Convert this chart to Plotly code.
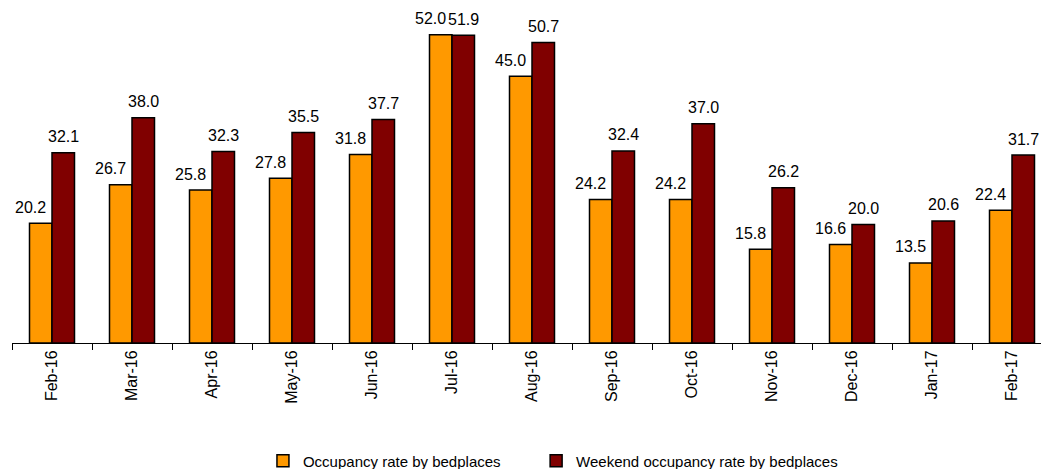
import plotly.graph_objects as go

months = ["Feb-16", "Mar-16", "Apr-16", "May-16", "Jun-16", "Jul-16", "Aug-16",
          "Sep-16", "Oct-16", "Nov-16", "Dec-16", "Jan-17", "Feb-17"]
occupancy = [20.2, 26.7, 25.8, 27.8, 31.8, 52.0, 45.0, 24.2, 24.2, 15.8, 16.6, 13.5, 22.4]
weekend = [32.1, 38.0, 32.3, 35.5, 37.7, 51.9, 50.7, 32.4, 37.0, 26.2, 20.0, 20.6, 31.7]

series_names = ["Occupancy rate by bedplaces", "Weekend occupancy rate by bedplaces"]
colors = ["#FF9900", "#800000"]
legend_ids = ["legend", "legend2"]

FONT = "Arial, Liberation Sans, sans-serif"

fig = go.Figure()
for name, vals, col, lg in zip(series_names, [occupancy, weekend], colors, legend_ids):
    fig.add_trace(go.Bar(
        x=months, y=vals, name=name, legend=lg,
        marker=dict(color=col, line=dict(color="black", width=1.5)),
    ))

annotations = []
for vals, xs in [(occupancy, -22), (weekend, 11)]:
    for m, v in zip(months, vals):
        annotations.append(dict(
            x=m, y=v, xref="x", yref="y", text=f"{v:.1f}", showarrow=False,
            xshift=xs, yshift=16, yanchor="middle", xanchor="center",
            font=dict(family=FONT, size=16, color="black"),
        ))

legend_common = dict(
    orientation="h", xref="container", yref="container",
    xanchor="left", y=0.017, yanchor="middle",
    font=dict(family=FONT, size=15, color="black"),
    itemwidth=30, bgcolor="rgba(0,0,0,0)",
)

fig.update_layout(
    width=1041, height=469,
    margin=dict(l=12, r=0, t=17, b=126),
    paper_bgcolor="white", plot_bgcolor="white",
    barmode="group", bargap=0.4375, bargroupgap=0,
    font=dict(family=FONT, size=16, color="black"),
    annotations=annotations,
    showlegend=True,
    legend=dict(x=0.2526, **legend_common),
    legend2=dict(x=0.515, **legend_common),
    xaxis=dict(
        type="category", range=[-0.5, 12.3625],
        showline=True, linecolor="black", linewidth=1,
        ticks="outside", tickson="boundaries", ticklen=6, tickcolor="black",
        tickangle=-90, tickfont=dict(family=FONT, size=16, color="black"),
        showgrid=False,
    ),
    yaxis=dict(
        range=[0, 55], showgrid=False, showline=False, zeroline=False,
        showticklabels=False, ticks="",
    ),
)

fig.write_html(
    "out.html",
    config={"displayModeBar": False},
    post_script="document.body.style.margin='0';document.body.style.overflow='hidden';",
)
